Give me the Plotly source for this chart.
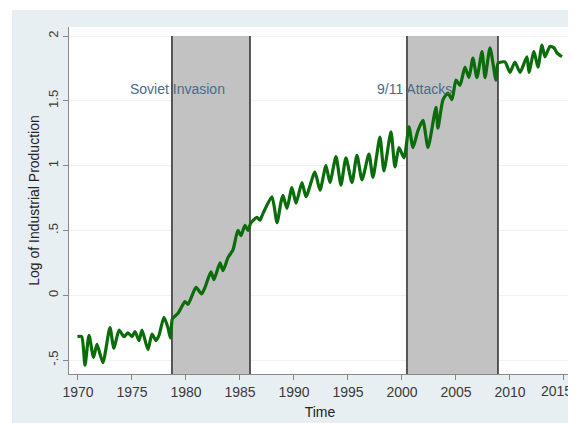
import plotly.graph_objects as go

# Data (turning points of the series)
time = [1969.95, 1970.34, 1970.65, 1971.02, 1971.44, 1971.76, 1972.31, 1972.96, 1973.33, 1973.80,
        1974.26, 1974.63, 1975.00, 1975.28, 1975.65, 1975.93, 1976.48, 1976.85, 1977.22, 1977.50,
        1977.96, 1978.33, 1978.56, 1978.75, 1979.26, 1979.91, 1980.19, 1980.93, 1981.44, 1981.76,
        1982.31, 1982.59, 1983.15, 1983.43, 1983.89, 1984.35, 1984.81, 1985.09, 1985.46, 1985.74,
        1986.02, 1986.57, 1986.85, 1987.13, 1987.96, 1988.43, 1988.80, 1988.98, 1989.35, 1989.81,
        1990.19, 1990.74, 1991.11, 1991.94, 1992.41, 1992.96, 1993.33, 1993.89, 1994.35, 1994.81,
        1995.37, 1995.83, 1996.30, 1996.94, 1997.31, 1997.96, 1998.33, 1998.98, 1999.35, 1999.72,
        2000.19, 2000.65, 2001.02, 2001.48, 2001.94, 2002.41, 2003.15, 2003.33, 2003.80, 2004.26,
        2004.63, 2005.00, 2005.37, 2005.83, 2006.20, 2006.57, 2006.94, 2007.41, 2007.69, 2008.15,
        2008.70, 2008.89, 2009.54, 2010.00, 2010.46, 2010.93, 2011.57, 2011.76, 2012.22, 2012.59,
        2012.96, 2013.24, 2013.70, 2014.07, 2014.35, 2014.81]
log_ip = [-0.32, -0.32, -0.54, -0.31, -0.48, -0.38, -0.52, -0.25, -0.41, -0.27,
          -0.32, -0.29, -0.32, -0.28, -0.35, -0.27, -0.42, -0.30, -0.35, -0.31,
          -0.17, -0.25, -0.33, -0.18, -0.14, -0.05, -0.07, 0.06, 0.01, 0.06,
          0.18, 0.12, 0.25, 0.19, 0.29, 0.35, 0.50, 0.46, 0.54, 0.50,
          0.56, 0.60, 0.58, 0.63, 0.76, 0.56, 0.72, 0.77, 0.67, 0.83,
          0.71, 0.87, 0.76, 0.95, 0.81, 1.00, 0.87, 1.07, 0.85, 1.06,
          0.87, 1.08, 0.89, 1.09, 0.91, 1.22, 0.96, 1.26, 0.99, 1.14,
          1.06, 1.30, 1.14, 1.27, 1.35, 1.14, 1.45, 1.29, 1.51, 1.56,
          1.51, 1.66, 1.62, 1.76, 1.68, 1.83, 1.68, 1.88, 1.68, 1.91,
          1.66, 1.79, 1.80, 1.72, 1.80, 1.72, 1.84, 1.72, 1.88, 1.76,
          1.93, 1.84, 1.92, 1.91, 1.87, 1.84]

event_labels = ["Soviet Invasion", "9/11 Attacks"]
event_start = [1978.70, 2000.46]
event_end = [1985.93, 2008.89]
label_x = [1979.17, 2001.16]
label_y = [1.59, 1.59]

x_ticks = [1970, 1975, 1980, 1985, 1990, 1995, 2000, 2005, 2010, 2015]
x_ticktext = ["1970", "1975", "1980", "1985", "1990", "1995", "2000", "2005", "2010", ""]
last_x_label = "2015"
y_ticks = [-0.5, 0, 0.5, 1, 1.5, 2]
y_ticktext = ["-.5", "0", ".5", "1", "1.5", "2"]

YMIN, YMAX = -0.608, 2.07
XMIN, XMAX = 1969.17, 2015.65

fig = go.Figure()
fig.add_trace(go.Scatter(x=time, y=log_ip, mode="lines",
                         line=dict(color="#0a6c0a", width=3.2, shape="spline", smoothing=0.6),
                         showlegend=False))

shapes = []
for s, e in zip(event_start, event_end):
    shapes.append(dict(type="rect", xref="x", yref="y", x0=s, x1=e, y0=YMIN, y1=2,
                       fillcolor="#c2c2c2", line=dict(width=0), layer="between"))
    for xv in (s, e):
        shapes.append(dict(type="line", xref="x", yref="y", x0=xv, x1=xv, y0=YMIN, y1=2,
                           line=dict(color="#2a2a2a", width=1.5), layer="between"))
# small white strips outside the graph region (top and left)
shapes.append(dict(type="rect", xref="paper", yref="paper", x0=-0.2, x1=1.1,
                   y0=1.0 + 17 / 347, y1=1.2, fillcolor="white", line=dict(width=0), layer="above"))
shapes.append(dict(type="rect", xref="paper", yref="paper", x0=-0.2, x1=-57 / 502,
                   y0=-0.3, y1=1.2, fillcolor="white", line=dict(width=0), layer="above"))

annotations = [dict(x=lx, y=ly, xref="x", yref="y", text=t, showarrow=False,
                    font=dict(family="Liberation Sans, Arial", size=14, color="#4a6a8c"))
               for t, lx, ly in zip(event_labels, label_x, label_y)]
# last tick label kept inside the page edge
annotations.append(dict(x=1.0 + 3 / 502, y=0, xref="paper", yref="paper", yshift=-7,
                        xanchor="right", yanchor="top", text=last_x_label, showarrow=False,
                        font=dict(family="Liberation Sans, Arial", size=14, color="#3a3a3a")))

fig.update_layout(
    width=568, height=415,
    margin=dict(l=61, r=5, t=19, b=49, autoexpand=False),
    paper_bgcolor="#e8eff2",
    plot_bgcolor="white",
    shapes=shapes,
    annotations=annotations,
    font=dict(family="Liberation Sans, Arial", size=13, color="#333333"),
    xaxis=dict(range=[XMIN, XMAX], tickvals=x_ticks, ticktext=x_ticktext,
               ticks="outside", ticklen=5,
               tickcolor="#888888", showgrid=False, zeroline=False,
               showline=True, linecolor="#888888", linewidth=1,
               tickfont=dict(size=14, color="#3a3a3a"),
               title=dict(text="Time", font=dict(size=14, color="#222222"), standoff=8)),
    yaxis=dict(range=[YMIN, YMAX], tickvals=y_ticks, ticktext=y_ticktext, tickangle=-90,
               ticks="outside", ticklen=5, tickcolor="#888888",
               showgrid=True, gridcolor="#eef2f4", gridwidth=1, zeroline=False,
               showline=True, linecolor="#888888", linewidth=1,
               tickfont=dict(size=13, color="#3a3a3a"),
               title=dict(text="Log of Industrial Production",
                          font=dict(size=14, color="#222222"), standoff=2)),
)

fig.write_html("out.html")
